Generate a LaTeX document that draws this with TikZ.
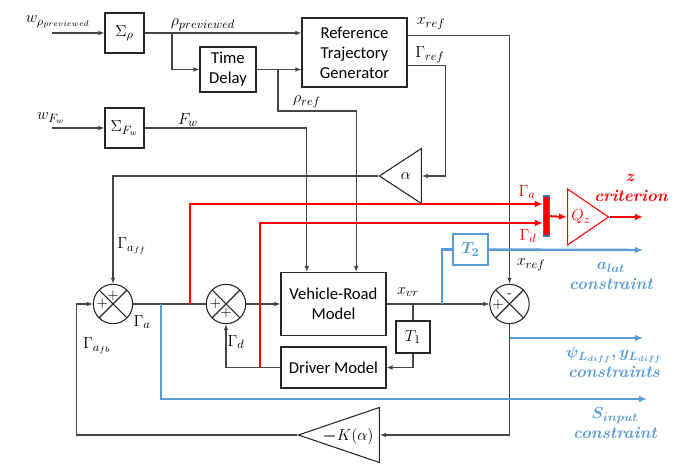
\documentclass[tikz,border=0pt]{standalone}
\usepackage{fontspec}
\newfontfamily\calibri{Carlito}
\definecolor{rojo}{RGB}{255,0,0}
\definecolor{azulc}{RGB}{91,155,213}
\definecolor{gris}{RGB}{70,70,70}
\definecolor{borde}{RGB}{65,113,156}
\usepackage{amsmath,amssymb,bm}
\usetikzlibrary{arrows.meta,shapes.geometric,positioning,calc}
\newcommand{\tam}{\fontsize{12.5}{15}\selectfont}
\newcommand{\tamm}{\fontsize{13}{15}\selectfont}

\begin{document}
\begin{tikzpicture}[x=0.75pt,y=-0.75pt,
    >={Latex[length=4.5pt,width=3.5pt]},
    caja/.style={draw=black!85,line width=0.8pt,font=\calibri\tam,align=center,inner sep=1pt},
    suma/.style={draw=black!85,circle,line width=0.8pt,minimum size=29.5pt,inner sep=0pt,
      path picture={\draw[line width=0.8pt]
        (path picture bounding box.north west)--(path picture bounding box.south east)
        (path picture bounding box.north east)--(path picture bounding box.south west);}},
    ganancia/.style={draw=black!85,isosceles triangle,isosceles triangle stretches,
      inner sep=0pt,line width=0.8pt},
    linea/.style={gris,line width=0.8pt},
    lrojo/.style={rojo,line width=2pt,-{Latex[length=6pt,width=5pt]}},
    lazul/.style={azulc,line width=1.8pt},
    etq/.style={font=\tamm,inner sep=1pt},
    signo/.style={font=\fontsize{11}{12}\selectfont,inner sep=0pt},
    nota/.style={font=\tam\bfseries\itshape,align=center,inner sep=1pt},
  ]
  \useasboundingbox (0,0) rectangle (694,466);

  \node[caja,minimum width=29.25pt,minimum height=30pt] (srho) at (124.5,33) {$\Sigma_\rho$};
  \node[caja,minimum width=42pt,minimum height=33.75pt] (retardo) at (228,69.5) {Time\\Delay};
  \node[caja,minimum width=78.75pt,minimum height=51.75pt] (rtg) at (354.5,52.5)
    {Reference\\Trajectory\\Generator};
  \node[caja,minimum width=29.25pt,minimum height=30pt] (sfw) at (124.5,128) {$\Sigma_{F_w}$};
  \node[caja,minimum width=78.75pt,minimum height=47.25pt] (vr) at (333.5,304) {Vehicle-Road\\Model};
  \node[caja,minimum width=78.75pt,minimum height=30.75pt] (dm) at (333.5,367.5) {Driver Model};
  \node[caja,minimum width=25.5pt,minimum height=24pt] (t1) at (413,337) {$T_1$};
  \node[caja,draw=azulc,text=azulc,minimum width=26.25pt,minimum height=23.25pt] (t2) at (470.5,249.5)
    {$\bm{T_2}$};

  \node[suma] (s1) at (113,304) {};
  \node[suma] (s2) at (226,304) {};
  \node[suma] (s3) at (509.5,304) {};
  \node[signo] (s1a) at ([yshift=6pt]s1.center) {$+$};
  \node[signo] (s1b) at ([xshift=-8pt]s1.center) {$+$};
  \node[signo] (s2a) at ([xshift=-8pt]s2.center) {$+$};
  \node[signo] (s2b) at ([yshift=-7pt]s2.center) {$+$};
  \node[signo] (s3a) at ([yshift=6pt]s3.center) {-};
  \node[signo] (s3b) at ([xshift=-8.5pt,yshift=-1pt]s3.center) {$+$};

  \node[ganancia,shape border rotate=180,minimum height=31.5pt,minimum width=41.25pt,
        anchor=apex] (alfa) at (378,176) {};
  \node[ganancia,shape border rotate=180,minimum height=60.75pt,minimum width=41.25pt,
        anchor=apex] (kalfa) at (297,435) {};
  \node[ganancia,draw=rojo,minimum height=30.75pt,minimum width=42pt,
        anchor=lower side] (qz) at (567,217) {};
  \node[draw=borde,fill=rojo,minimum width=4.5pt,minimum height=30pt,inner sep=0pt,
        line width=0.8pt] (mux) at (546.5,216) {};
  \node[etq] (lalfa) at (406,176) {$\alpha$};
  \node[etq] (lk) at (348,437) {$\bm{-}K(\alpha)$};
  \node[etq,text=rojo] (lqz) at (581,217) {$Q_z$};

  \node[etq] (lwrho) at (58,22) {$w_{\rho_{previewed}}$};
  \node[etq] (lrhoprev) at (203,25) {$\rho_{previewed}$};
  \node[etq] (lrhoref) at (307,102) {$\rho_{ref}$};
  \node[etq] (lwfw) at (51,118) {$w_{F_w}$};
  \node[etq] (lfw) at (188,120) {$F_w$};
  \node[etq] (lxref) at (431,24) {$x_{ref}$};
  \node[etq] (lgref) at (430,55) {$\Gamma_{ref}$};
  \node[etq] (lgaff) at (132,246) {$\Gamma_{a_{ff}}$};
  \node[etq] (lga) at (142,322) {$\Gamma_a$};
  \node[etq] (lgafb) at (97,346) {$\Gamma_{a_{fb}}$};
  \node[etq] (lgd) at (236,342) {$\Gamma_d$};
  \node[etq] (lxvr) at (408,292) {$x_{vr}$};
  \node[etq] (lxref2) at (531,265) {$x_{ref}$};
  \node[etq,text=rojo] (lgared) at (527,192) {$\Gamma_a$};
  \node[etq,text=rojo] (lgdred) at (528,236) {$\Gamma_d$};
  \node[nota,text=rojo] (lz) at (631,188) {$\bm{z}$\\criterion};
  \node[nota,text=azulc] (lalat) at (611,276) {$\bm{a_{lat}}$\\constraint};
  \node[nota,text=azulc] (lpsi) at (614,362) {$\bm{\psi_{L_{diff}},y_{L_{diff}}}$\\constraints};
  \node[nota,text=azulc] (lsin) at (615,423) {$\bm{S_{input}}$\\constraint};

  \coordinate (inrho) at (52,33);
  \coordinate (infw) at (52,128);
  \coordinate (bdel) at (172,33);
  \coordinate (bref) at (278,69.5);
  \coordinate (vrin1) at ([xshift=-20pt]vr.north);
  \coordinate (vrin2) at ([xshift=17pt]vr.north);
  \coordinate (bt1) at (413,304);
  \coordinate (bred1) at (190,304);
  \coordinate (bred2) at (260,367.5);
  \coordinate (bblu1) at (442,304);
  \coordinate (bblu2) at (161,304);
  \coordinate (bpsi) at (509.5,338);
  \coordinate (oz) at (643,217);
  \coordinate (oalat) at (643,250);
  \coordinate (opsi) at (643,338);
  \coordinate (osin) at (647,399);

  \draw[linea,->] (inrho) -- (srho);
  \draw[linea,->] (infw) -- (sfw);
  \draw[linea,->] (srho) -- (srho -| rtg.west);
  \draw[linea,->] (bdel) |- (retardo);
  \draw[linea,->] (retardo) -- (retardo -| rtg.west);
  \draw[linea,->] (bref) -- ++(0,41.5) -| (vrin2);
  \draw[linea,->] (sfw) -| (vrin1);
  \draw[linea,->] ([yshift=12.4pt]rtg.east) -| (s3);
  \draw[linea,->] ([yshift=-10pt]rtg.east) -| ([xshift=18pt]alfa.lower side) -- (alfa.lower side);
  \draw[linea,->] (alfa.apex) -| (s1);
  \draw[linea] (s1) -- (s2);
  \draw[linea,->] (s2) -- (vr);
  \draw[linea,->] (vr) -- (s3);
  \draw[linea] (bt1) -- (t1);
  \draw[linea,->] (t1) |- (dm);
  \draw[linea,->] (dm) -| (s2);
  \draw[linea,->] (s3) |- (kalfa.lower side);
  \draw[linea,->] (kalfa.apex) -| ([xshift=-12pt]s1.west) -- (s1.west);

  \draw[lrojo] (bred1) |- ([yshift=9pt]mux.west);
  \draw[lrojo] (bred2) |- ([yshift=-5.25pt]mux.west);
  \draw[lrojo,line width=1.5pt] (mux) -- (qz.lower side);
  \draw[lrojo] (qz.apex) -- (oz);

  \draw[lazul] (bblu1) |- (t2);
  \draw[lazul,-{Latex[length=6pt,width=5pt]}] (t2) -- (oalat);
  \draw[lazul,-{Latex[length=6pt,width=5pt]}] (bpsi) -- (opsi);
  \draw[lazul,-{Latex[length=6pt,width=5pt]}] (bblu2) |- (osin);
\end{tikzpicture}
\end{document}
